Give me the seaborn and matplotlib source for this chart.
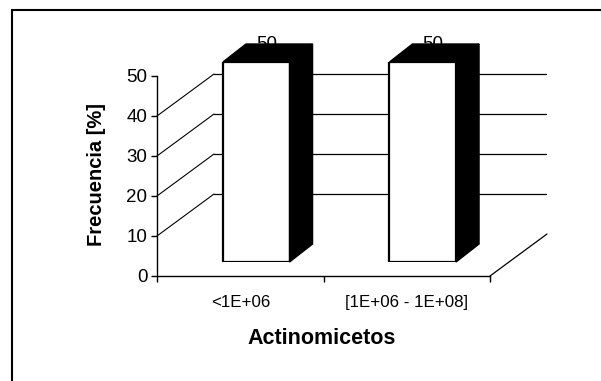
import matplotlib
matplotlib.use("Agg")
import matplotlib.pyplot as plt
import matplotlib.transforms as mtransforms
from matplotlib.patches import Polygon, Rectangle, ConnectionPatch
import seaborn as sns
import pandas as pd

categorias = ["<1E+06", "[1E+06 - 1E+08]"]
frecuencia = [50, 50]
ticks_y = [0, 10, 20, 30, 40, 50]
grid_y = [10, 20, 30, 40]

df = pd.DataFrame({"Actinomicetos": categorias, "Frecuencia": frecuencia})

sns.set_style("white")
plt.rcParams["font.family"] = ["Liberation Sans", "DejaVu Sans"]
plt.rcParams["text.color"] = "black"
plt.rcParams["axes.labelcolor"] = "black"
plt.rcParams["xtick.color"] = "black"
plt.rcParams["ytick.color"] = "black"

W, H = 601, 381
fig = plt.figure(figsize=(W / 100, H / 100), dpi=100)


def px_rect(x0, y0, x1, y1):
    # pixel box (top-left origin) -> figure fraction
    return [x0 / W, 1 - y1 / H, (x1 - x0) / W, (y1 - y0) / H]


# front plane (axes) 157..490 x 76..276 px
fx0, fy0, fx1, fy1 = 157, 76, 490, 276
back_d = (57, -42)   # back wall offset
bar_d = (16, -14)    # plane where bars stand
depth = (23, 18)     # bar depth in px (x right, y up)

ax_back = fig.add_axes(px_rect(fx0 + back_d[0], fy0 + back_d[1], fx1 + back_d[0], fy1 + back_d[1]))
ax = fig.add_axes(px_rect(fx0, fy0, fx1, fy1))
ax_bar = fig.add_axes(px_rect(fx0 + bar_d[0], fy0 + bar_d[1], fx1 + bar_d[0], fy1 + bar_d[1]))

for a in (ax_back, ax, ax_bar):
    a.set_xlim(-0.5, 1.5)
    a.set_ylim(0, 50)
    a.patch.set_visible(False)
ax_back.set_zorder(0)
ax.set_zorder(1)
ax_bar.set_zorder(2)

# back wall gridlines
ax_back.set_yticks(grid_y)
ax_back.set_xticks([])
ax_back.tick_params(left=False, labelleft=False)
ax_back.grid(axis="y", color="black", linewidth=0.9)
for s in ax_back.spines.values():
    s.set_visible(False)

# front axes
ax.set_yticks(ticks_y)
ax.set_yticklabels([str(t) for t in ticks_y], fontsize=13.5)
ax.set_xticks([-0.5, 0.5, 1.5])
ax.set_xticklabels([])
ax.set_xticks([0, 1], minor=True)
ax.set_xticklabels(categorias, minor=True, fontsize=12.2)
ax.tick_params(axis="x", which="minor", length=0, pad=14)
ax.tick_params(axis="x", which="major", length=4, width=1, direction="out", bottom=True)
ax.tick_params(axis="y", length=4, width=1, direction="out", left=True, pad=3)
for side in ("top", "right"):
    ax.spines[side].set_visible(False)
for side in ("left", "bottom"):
    ax.spines[side].set_color("black")
    ax.spines[side].set_linewidth(1)

# diagonals from the front axis to the back wall
for v in grid_y:
    con = ConnectionPatch(xyA=(-0.5, v), coordsA=ax.transData,
                          xyB=(-0.5, v), coordsB=ax_back.transData,
                          color="black", linewidth=0.8)
    fig.add_artist(con)
con = ConnectionPatch(xyA=(1.5, 0), coordsA=ax.transData,
                      xyB=(1.5, 0), coordsB=ax_back.transData,
                      color="black", linewidth=0.9)
fig.add_artist(con)

# bars
sns.barplot(data=df, x="Actinomicetos", y="Frecuencia", ax=ax_bar, color="white",
            edgecolor="black", linewidth=1.6, width=0.4, saturation=1)
ax_bar.set_xlim(-0.5, 1.5)
ax_bar.set_ylim(0, 50)
ax_bar.axis("off")

inv = fig.transFigure.inverted()
dx, dy = depth
for p in ax_bar.patches:
    x0, x1 = p.get_x(), p.get_x() + p.get_width()
    h = p.get_height()
    (ax0, ay0), (ax1, ay1) = ax_bar.transData.transform([(x0, 0), (x1, h)])
    side = [(ax1, ay0), (ax1, ay1), (ax1 + dx, ay1 + dy), (ax1 + dx, ay0 + dy)]
    top = [(ax0, ay1), (ax1, ay1), (ax1 + dx, ay1 + dy), (ax0 + dx, ay1 + dy)]
    for poly in (side, top):
        fig.add_artist(Polygon(inv.transform(poly), closed=True, facecolor="black",
                               edgecolor="black", linewidth=1, transform=fig.transFigure,
                               zorder=5))

# value labels (partly hidden behind the bar tops)
lab_tr = mtransforms.offset_copy(ax_bar.transData, fig=fig, x=10, y=9, units="dots")
for i, v in enumerate(frecuencia):
    fig.text(0, 0, str(v), transform=lab_tr, ha="center", va="bottom",
             fontsize=13.5, zorder=4).set_position((i, v))

fig.text(322 / W, 1 - 339 / H, "Actinomicetos", ha="center", va="center",
         fontsize=15.5, fontweight="bold")
fig.text(97 / W, 1 - 174 / H, "Frecuencia [%]", ha="center", va="center",
         rotation=90, fontsize=14.5, fontweight="bold")

# outer chart border (runs off the right and bottom edges)
fig.add_artist(Rectangle((12 / W, -0.2), 1.2, 1 - 10 / H + 0.2, transform=fig.transFigure,
                         fill=False, edgecolor="black", linewidth=1.5))

fig.savefig("out.png", dpi=100)
